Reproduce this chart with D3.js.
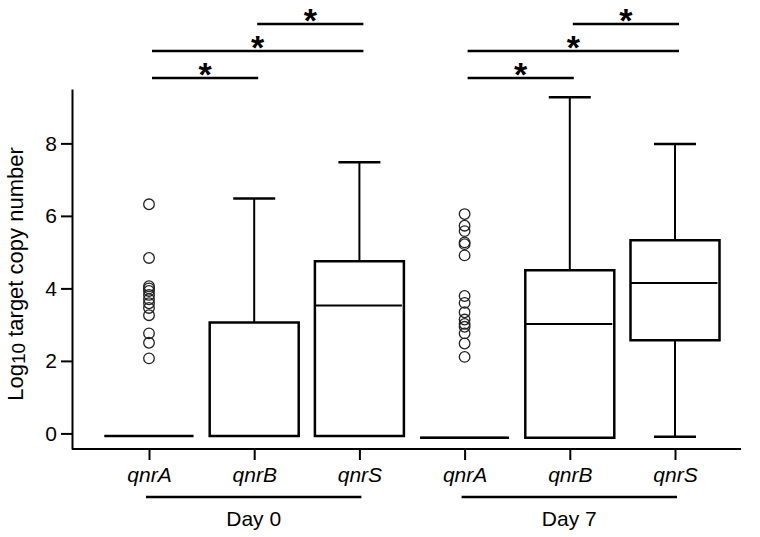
<!DOCTYPE html>
<html>
<head>
<meta charset="utf-8">
<script src="https://cdn.jsdelivr.net/npm/d3@7"></script>
<style>
  html, body { margin: 0; padding: 0; background: #fff; }
  svg { display: block; font-family: "Liberation Sans", Arial, sans-serif; }
</style>
</head>
<body>
<svg id="chart" width="760" height="537"></svg>
<script>
// ---- data ----
const categories = ["qnrA", "qnrB", "qnrS", "qnrA", "qnrB", "qnrS"];
const dayLabels = ["Day 0", "Day 7"];
const dayGroups = [[0, 2], [3, 5]];
const mins    = [-0.07, -0.07, -0.07, -0.12, -0.12, -0.09];
const q1s     = [-0.07, -0.07, -0.07, -0.12, -0.12, 2.57];
const medians = [-0.07, -0.07, 3.53, -0.12, 3.02, 4.15];
const q3s     = [-0.07, 3.06, 4.75, -0.12, 4.50, 5.33];
const maxs    = [-0.07, 6.48, 7.48, -0.12, 9.27, 7.98];
const outliersDay0A = [6.32, 4.84, 4.06, 4.00, 3.93, 3.82, 3.70, 3.59, 3.46, 3.26, 2.76, 2.50, 2.07];
const outliersDay7A = [6.05, 5.73, 5.58, 5.27, 5.22, 4.91, 3.79, 3.60, 3.34, 3.14, 3.02, 2.94, 2.76, 2.48, 2.11];
const outlierIndex = [0, 3];
const yTicks = [0, 2, 4, 6, 8];
const comparisons = [[0, 1, 0], [0, 2, 1], [1, 2, 2], [3, 4, 0], [3, 5, 1], [4, 5, 2]]; // from, to, level
const sigLabel = "*";

// ---- layout ----
const svg = d3.select("#chart");
const keys = categories.map((c, i) => i);
const x = d3.scalePoint().domain(keys).range([149, 675]);
const y = d3.scaleLinear().domain([-0.43, 9.5]).range([449, 89]);
const boxHalf = 44.5, capHalf = 21;
const FS = 21;

// y axis
const yAxis = svg.append("g").attr("transform", "translate(72,0)")
  .call(d3.axisLeft(y).tickValues(yTicks).tickSize(11).tickSizeOuter(0).tickPadding(4).tickFormat(d3.format("d")));
yAxis.select(".domain").attr("stroke", "#000").attr("stroke-width", 2);
yAxis.selectAll(".tick line").attr("stroke", "#000").attr("stroke-width", 2);
yAxis.selectAll(".tick text").attr("font-size", FS).attr("fill", "#000")
  .attr("font-family", "'Liberation Sans', Arial, sans-serif");

// x axis
const xAxis = svg.append("g").attr("transform", "translate(0,449)")
  .call(d3.axisBottom(x).tickSize(11).tickSizeOuter(0).tickPadding(7).tickFormat(i => categories[i]));
xAxis.select(".domain").remove();
xAxis.append("line").attr("x1", 72).attr("x2", 741).attr("y1", 0).attr("y2", 0)
  .attr("stroke", "#000").attr("stroke-width", 2);
xAxis.selectAll(".tick line").attr("stroke", "#000").attr("stroke-width", 2);
xAxis.selectAll(".tick text").attr("font-size", FS).attr("fill", "#000")
  .attr("font-style", "italic").attr("font-family", "'Liberation Sans', Arial, sans-serif");

// y label
const yl = svg.append("text")
  .attr("transform", `translate(23,${(y(-0.43) + y(9.5)) / 2 + 5}) rotate(-90)`)
  .attr("text-anchor", "middle").attr("font-size", 22).attr("fill", "#000");
yl.append("tspan").text("Log");
yl.append("tspan").attr("font-size", 19).attr("dy", 2).text("10");
yl.append("tspan").attr("dy", -2).text(" target copy number");

// day groups
dayGroups.forEach((g, i) => {
  const x0 = x(g[0]) - 3, x1 = x(g[1]) + 2;
  svg.append("line").attr("x1", x0).attr("x2", x1).attr("y1", 497).attr("y2", 497)
    .attr("stroke", "#000").attr("stroke-width", 2.5);
  svg.append("text").attr("x", (x0 + x1) / 2).attr("y", 526).attr("text-anchor", "middle")
    .attr("font-size", FS).attr("fill", "#000").text(dayLabels[i]);
});

// boxes
const plot = svg.append("g");
keys.forEach(i => {
  const cx = x(i);
  const g = plot.append("g");
  if (maxs[i] > q3s[i]) {
    g.append("line").attr("x1", cx).attr("x2", cx).attr("y1", y(q3s[i])).attr("y2", y(maxs[i]))
      .attr("stroke", "#000").attr("stroke-width", 2);
    g.append("line").attr("x1", cx - capHalf).attr("x2", cx + capHalf).attr("y1", y(maxs[i])).attr("y2", y(maxs[i]))
      .attr("stroke", "#000").attr("stroke-width", 2.5);
  }
  if (mins[i] < q1s[i]) {
    g.append("line").attr("x1", cx).attr("x2", cx).attr("y1", y(q1s[i])).attr("y2", y(mins[i]))
      .attr("stroke", "#000").attr("stroke-width", 2);
    g.append("line").attr("x1", cx - capHalf).attr("x2", cx + capHalf).attr("y1", y(mins[i])).attr("y2", y(mins[i]))
      .attr("stroke", "#000").attr("stroke-width", 2.5);
  }
  const p = d3.path();
  p.moveTo(cx - boxHalf, y(q3s[i]));
  p.lineTo(cx + boxHalf, y(q3s[i]));
  p.lineTo(cx + boxHalf, y(q1s[i]));
  p.lineTo(cx - boxHalf, y(q1s[i]));
  p.closePath();
  g.append("path").attr("d", p.toString()).attr("fill", "#fff").attr("stroke", "#000")
    .attr("stroke-width", 2.5).attr("stroke-linejoin", "miter");
  g.append("line").attr("x1", cx - boxHalf).attr("x2", cx + boxHalf - 2)
    .attr("y1", y(medians[i])).attr("y2", y(medians[i]))
    .attr("stroke", "#000").attr("stroke-width", 2);
});

// outliers
[outliersDay0A, outliersDay7A].forEach((arr, k) => {
  const cx = x(outlierIndex[k]);
  plot.selectAll(null).data(arr).enter().append("circle")
    .attr("cx", cx).attr("cy", d => y(d)).attr("r", 5.3)
    .attr("fill", "none").attr("stroke", "#222").attr("stroke-width", 1.3);
});

// significance bars
const levelY = d3.scaleLinear().domain([0, 2]).range([78, 24]);
const SFS = 34;
comparisons.forEach(([a, b, lv]) => {
  const x0 = x(a) + 3, x1 = x(b) + 4;
  const yy = levelY(lv);
  svg.append("line").attr("x1", x0).attr("x2", x1).attr("y1", yy).attr("y2", yy)
    .attr("stroke", "#000").attr("stroke-width", 2.5);
  svg.append("text").attr("x", (x0 + x1) / 2).attr("y", yy + 7.5)
    .attr("text-anchor", "middle").attr("font-size", SFS).attr("font-weight", "bold")
    .attr("fill", "#000").text(sigLabel);
});
</script>
</body>
</html>
